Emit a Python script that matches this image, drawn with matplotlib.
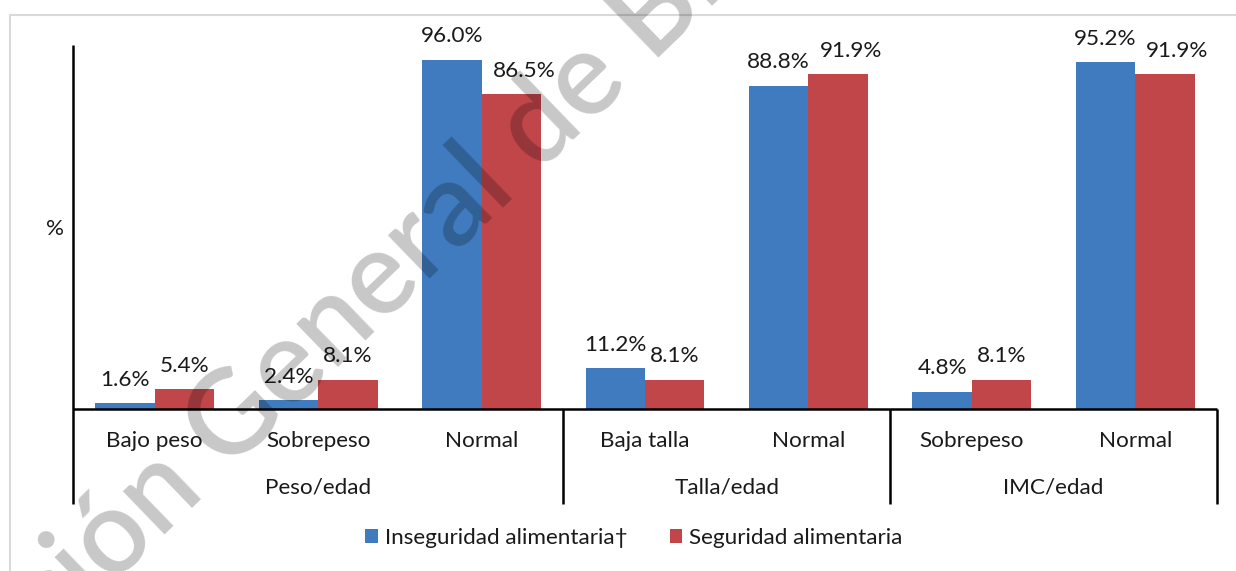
import matplotlib
matplotlib.use("Agg")
import matplotlib.pyplot as plt
from matplotlib.lines import Line2D
from matplotlib.patches import Patch
from matplotlib.textpath import TextPath
from matplotlib.font_manager import FontProperties
import numpy as np

plt.rcParams['font.family'] = ['Lato', 'DejaVu Sans']

# ---- data ----
categories = ["Bajo peso", "Sobrepeso", "Normal", "Baja talla", "Normal", "Sobrepeso", "Normal"]
groups = ["Peso/edad", "Talla/edad", "IMC/edad"]
group_sizes = [3, 2, 2]
inseguridad = [1.6, 2.4, 96.0, 11.2, 88.8, 4.8, 95.2]
seguridad = [5.4, 8.1, 86.5, 8.1, 91.9, 8.1, 91.9]
series_names = ["Inseguridad alimentaria\u2020", "Seguridad alimentaria"]

BLUE = "#3F7BBE"
RED = "#C0464A"
FS = 16.2
TXT = "#1a1a1a"

W, H, DPI = 1236, 571, 100
fig = plt.figure(figsize=(W / DPI, H / DPI), dpi=DPI)
fig.patch.set_facecolor("white")

# axes placement in pixels
x0, x1 = 73, 1217
ytop, ybase = 45, 409
ax = fig.add_axes([x0 / W, 1 - ybase / H, (x1 - x0) / W, (ybase - ytop) / H])
ax.set_xlim(-0.5, len(categories) - 0.5)
ax.set_ylim(0, 100)
for s in ax.spines.values():
    s.set_visible(False)
ax.set_xticks([])
ax.set_yticks([])
ax.patch.set_alpha(0)

x = np.arange(len(categories))
bw = 0.3636
ax.bar(x - bw / 2, inseguridad, bw, color=BLUE, zorder=2)
ax.bar(x + bw / 2, seguridad, bw, color=RED, zorder=2)

for xi, v in zip(x, inseguridad):
    ax.annotate(f"{v:.1f}%", (xi - bw / 2, v), xytext=(0, 12.5), textcoords="offset points",
                ha="center", va="baseline", fontsize=FS, color=TXT)
for xi, v in zip(x, seguridad):
    dx = 9 if v > 50 else 0
    ax.annotate(f"{v:.1f}%", (xi + bw / 2, v), xytext=(dx, 12.5), textcoords="offset points",
                ha="center", va="baseline", fontsize=FS, color=TXT)

# axis lines
trans = ax.get_xaxis_transform()
ext = -(504 - ybase) / (ybase - ytop)
ax.plot([-0.5, len(categories) - 0.5], [0, 0], transform=trans, color="black", lw=1.8,
        clip_on=False, zorder=3, solid_capstyle="butt")
ax.plot([-0.5, -0.5], [ext, 1.0], transform=trans, color="black", lw=1.8, clip_on=False,
        zorder=3, solid_capstyle="butt")
bounds = np.cumsum([0] + group_sizes) - 0.5
for b in bounds[1:]:
    ax.plot([b, b], [ext, 0], transform=trans, color="black", lw=1.8, clip_on=False,
            zorder=3, solid_capstyle="butt")

cat_y = -(441 - ybase) / (ybase - ytop)
grp_y = -(488 - ybase) / (ybase - ytop)
for xi, c in zip(x, categories):
    ax.text(xi, cat_y, c, transform=trans, ha="center", va="center", fontsize=FS, color=TXT)
for g, lo, hi in zip(groups, bounds[:-1], bounds[1:]):
    ax.text((lo + hi) / 2, grp_y, g, transform=trans, ha="center", va="center", fontsize=FS,
            color=TXT)

fig.text(55 / W, 1 - 229 / H, "%", ha="center", va="center", fontsize=FS, color=TXT)

# legend
handles = [Patch(facecolor=BLUE, edgecolor="none"), Patch(facecolor=RED, edgecolor="none")]
fig.legend(handles, series_names, loc="center", bbox_to_anchor=(634 / W, 1 - 538 / H),
           ncol=2, frameon=False, fontsize=FS, handlelength=0.55, handleheight=0.55,
           handletextpad=0.3, columnspacing=1.9, labelcolor=TXT)

# chart border (light gray)
fig.add_artist(Line2D([10 / W, 1.0], [1 - 15 / H, 1 - 15 / H], transform=fig.transFigure,
                      color="#D9D9D9", lw=1.5))
fig.add_artist(Line2D([10 / W, 10 / W], [0, 1 - 15 / H], transform=fig.transFigure,
                      color="#D9D9D9", lw=1.5))

# watermark
wm = "Dirección General de Bibliotecas"
wm_size = 84
fp = FontProperties(family="Lato", size=wm_size, weight="semibold")
pre_w = TextPath((0, 0), "Dirección G", prop=fp).get_extents().x1 - \
    TextPath((0, 0), "G", prop=fp).get_extents().x1
pre_px = pre_w * DPI / 72
ang = 44
gx, gy = 228, 474  # baseline-left of "G" in pixels (y down)
sx = gx - pre_px * np.cos(np.radians(ang))
sy = gy + pre_px * np.sin(np.radians(ang))
fig.text(sx / W, 1 - sy / H, wm, rotation=ang, rotation_mode="anchor", ha="left",
         va="baseline", fontproperties=fp, color="black", alpha=0.22, zorder=10)

fig.savefig("out.png", dpi=DPI, facecolor="white")
